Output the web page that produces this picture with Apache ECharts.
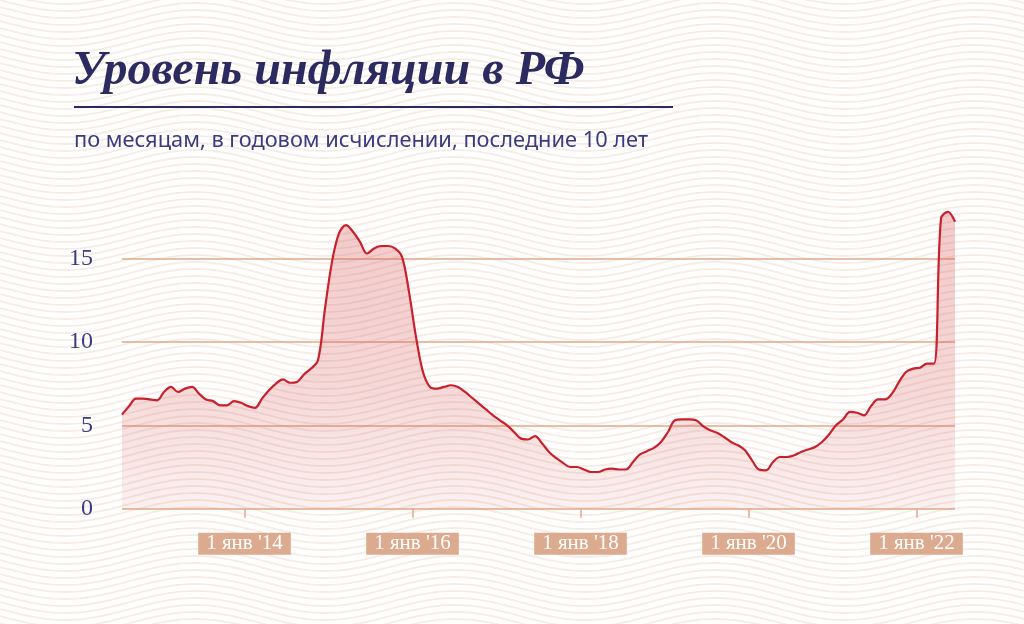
<!DOCTYPE html>
<html>
<head>
<meta charset="utf-8">
<script src="https://cdn.jsdelivr.net/npm/echarts@6/dist/echarts.min.js"></script>
<style>
html,body{margin:0;padding:0;}
body{width:1024px;height:624px;background-color:#fff;overflow:hidden;}
#c{width:1024px;height:624px;}
</style>
</head>
<body>
<div id="c"></div>
<script>
// Months (YYYY-MM), one value per month, last 10 years
const months = [
  '2012-07','2012-08','2012-09','2012-10','2012-11','2012-12',
  '2013-01','2013-02','2013-03','2013-04','2013-05','2013-06','2013-07','2013-08','2013-09','2013-10','2013-11','2013-12',
  '2014-01','2014-02','2014-03','2014-04','2014-05','2014-06','2014-07','2014-08','2014-09','2014-10','2014-11','2014-12',
  '2015-01','2015-02','2015-03','2015-04','2015-05','2015-06','2015-07','2015-08','2015-09','2015-10','2015-11','2015-12',
  '2016-01','2016-02','2016-03','2016-04','2016-05','2016-06','2016-07','2016-08','2016-09','2016-10','2016-11','2016-12',
  '2017-01','2017-02','2017-03','2017-04','2017-05','2017-06','2017-07','2017-08','2017-09','2017-10','2017-11','2017-12',
  '2018-01','2018-02','2018-03','2018-04','2018-05','2018-06','2018-07','2018-08','2018-09','2018-10','2018-11','2018-12',
  '2019-01','2019-02','2019-03','2019-04','2019-05','2019-06','2019-07','2019-08','2019-09','2019-10','2019-11','2019-12',
  '2020-01','2020-02','2020-03','2020-04','2020-05','2020-06','2020-07','2020-08','2020-09','2020-10','2020-11','2020-12',
  '2021-01','2021-02','2021-03','2021-04','2021-05','2021-06','2021-07','2021-08','2021-09','2021-10','2021-11','2021-12',
  '2022-01','2022-02','2022-03','2022-04','2022-05','2022-06'
];

// Annual inflation, %
const inflation = [
  5.64, 6.14, 6.6, 6.6, 6.55, 6.5,
  7.0, 7.3, 7.0, 7.2, 7.3, 6.9, 6.55, 6.45, 6.2, 6.2, 6.45, 6.35,
  6.15, 6.05, 6.6, 7.1, 7.5, 7.75, 7.55, 7.6, 8.05, 8.4, 8.9, 12.0,
  14.8, 16.5, 17.0, 16.6, 16.0, 15.3, 15.6, 15.75, 15.75, 15.6, 15.1, 13.0,
  10.3, 8.2, 7.3, 7.2, 7.3, 7.4, 7.3, 7.0, 6.65, 6.3, 5.95, 5.6,
  5.3, 5.0, 4.6, 4.2, 4.15, 4.35, 3.92, 3.4, 3.04, 2.75, 2.5, 2.5,
  2.35, 2.2, 2.2, 2.35, 2.4, 2.35, 2.35, 2.8, 3.25, 3.45, 3.65, 4.0,
  4.6, 5.3, 5.35, 5.35, 5.3, 4.95, 4.7, 4.55, 4.3, 4.0, 3.8, 3.5,
  2.9, 2.35, 2.3, 2.8, 3.1, 3.1, 3.2, 3.4, 3.55, 3.7, 4.0, 4.45,
  5.0, 5.35, 5.8, 5.75, 5.6, 6.15, 6.55, 6.55, 6.9, 7.6, 8.2, 8.4,
  8.45, 8.7, 8.7, 17.4, 17.8, 17.2
];

// x-axis tick years (1 January of each)
const tickYears = [2014, 2016, 2018, 2020, 2022];
const tickLabelPrefix = '1 янв \'';

const titleText = 'Уровень инфляции в РФ';
const subtitleText = 'по месяцам, в годовом исчислении, последние 10 лет';

// ---- decorative wavy background (pattern only) ----
(function(){
  const W = 260, H = 42, A = 11, step = 7;
  let paths = '';
  for (let b = -14; b <= 56; b += step) {
    let d = '';
    for (let x = 0; x <= W; x += 5) {
      const y = b + A * Math.sin(2 * Math.PI * x / W);
      d += (x === 0 ? 'M' : 'L') + x + ' ' + y.toFixed(2) + ' ';
    }
    paths += "<path d='" + d + "' fill='none' stroke='#f6ece3' stroke-width='1.8'/>";
  }
  const svg = "<svg xmlns='http://www.w3.org/2000/svg' width='" + W + "' height='" + H + "'>" + paths + "</svg>";
  document.body.style.backgroundImage = 'url("data:image/svg+xml,' + encodeURIComponent(svg) + '")';
})();

const data = months.map((m, i) => {
  const p = m.split('-').map(Number);
  return [p[0] + (p[1] - 0.5) / 12, inflation[i]];
});

const gridColor = '#e2a88b';
const navy = '#2b2b5f';
const chart = echarts.init(document.getElementById('c'), null, {renderer: 'canvas'});
chart.setOption({
  animation: false,
  backgroundColor: 'transparent',
  title: [
    {
      text: titleText, left: 72, top: 48, padding: 0,
      textStyle: {fontFamily: 'Liberation Serif', fontStyle: 'italic', fontWeight: 'bold', fontSize: 48, color: navy}
    },
    {
      text: subtitleText, left: 74, top: 130, padding: 0,
      textStyle: {fontFamily: 'Noto Sans', fontWeight: 'normal', fontSize: 21.8, color: '#3a3b80'}
    }
  ],
  graphic: [
    {type: 'line', shape: {x1: 74, y1: 107, x2: 673, y2: 107}, style: {stroke: navy, lineWidth: 2}}
  ],
  grid: {left: 122, right: 69, top: 508.7 - 20 * 16.68, bottom: 624 - 508.7, outerBoundsMode: 'none'},
  xAxis: {
    type: 'value',
    min: data[0][0],
    max: data[data.length - 1][0],
    axisLine: {show: false},
    splitLine: {show: false},
    axisTick: {show: true, customValues: tickYears, length: 9, lineStyle: {color: gridColor, width: 1.5}},
    axisLabel: {
      customValues: tickYears,
      formatter: v => tickLabelPrefix + String(Math.round(v)).slice(2),
      margin: 24,
      fontFamily: 'Liberation Serif',
      fontSize: 21,
      lineHeight: 16,
      color: '#ffffff',
      backgroundColor: '#dcaa8e',
      padding: [3, 8, 3, 8]
    }
  },
  yAxis: {
    type: 'value',
    min: 0, max: 20, interval: 5,
    axisLine: {show: false},
    axisTick: {show: false},
    splitLine: {show: true, lineStyle: {color: [gridColor, gridColor, gridColor, gridColor, 'rgba(0,0,0,0)'], width: 1.5}},
    axisLabel: {
      formatter: v => (v === 20 ? '' : String(v)),
      margin: 29,
      fontFamily: 'Liberation Serif',
      fontSize: 24,
      color: '#3c3d7f'
    }
  },
  series: [{
    type: 'line',
    data: data,
    smooth: 0.35,
    showSymbol: false,
    lineStyle: {color: '#c8202c', width: 2.2},
    areaStyle: {
      color: {
        type: 'linear', x: 0, y: 200, x2: 0, y2: 509, global: true,
        colorStops: [
          {offset: 0, color: 'rgba(210,70,75,0.42)'},
          {offset: 0.6, color: 'rgba(210,70,75,0.30)'},
          {offset: 1, color: 'rgba(210,70,75,0.11)'}
        ]
      }
    }
  }]
});
</script>
</body>
</html>
